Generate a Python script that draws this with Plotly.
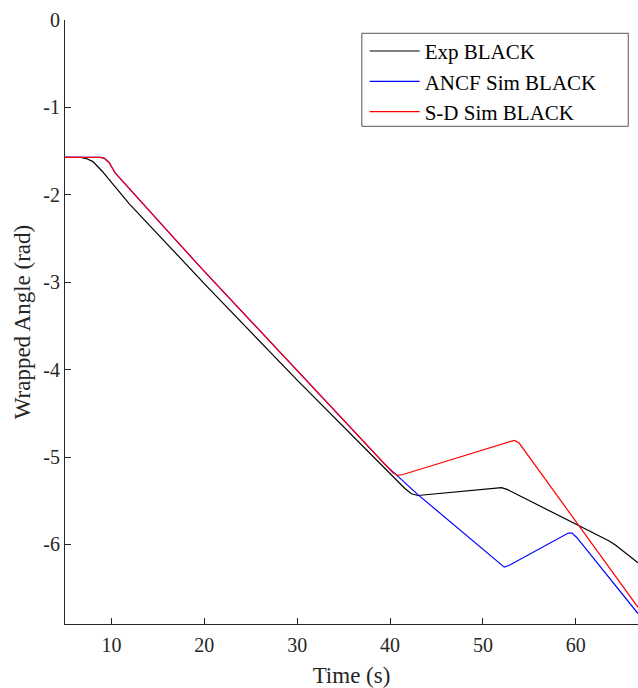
import plotly.graph_objects as go

# Experimental wrapped angle (black)
t_exp = [5.0, 6.7, 7.3, 8.0, 9.0, 10.1, 11.9, 14.2, 20.3, 30.0, 36.8, 41.6, 42.3, 43.0,
         52.0, 52.6, 63.6, 64.3, 66.7]
a_exp = [-1.571, -1.571, -1.585, -1.62, -1.73, -1.87, -2.10, -2.36, -3.05, -4.12, -4.84,
         -5.36, -5.42, -5.44, -5.35, -5.37, -5.96, -6.01, -6.21]

# ANCF simulation (blue)
t_ancf = [5.0, 8.8, 9.2, 9.75, 10.4, 13.0, 15.5, 19.6, 30.0, 36.8, 38.2, 39.5, 43.0,
          51.9, 52.3, 52.8, 59.2, 59.6, 60.1, 66.7]
a_ancf = [-1.571, -1.571, -1.58, -1.63, -1.75, -2.05, -2.35, -2.83, -4.01, -4.79, -4.95,
          -5.09, -5.43, -6.23, -6.26, -6.24, -5.87, -5.87, -5.92, -6.79]

# S-D simulation (red)
t_sd = [5.0, 8.8, 9.2, 9.75, 10.4, 13.0, 15.5, 19.6, 30.0, 36.8, 38.2, 40.3, 40.8, 41.4,
        53.0, 53.4, 53.9, 66.7]
a_sd = [-1.571, -1.571, -1.58, -1.63, -1.75, -2.05, -2.35, -2.83, -4.01, -4.79, -4.95,
        -5.18, -5.21, -5.20, -4.82, -4.81, -4.84, -6.72]

x_ticks = [10, 20, 30, 40, 50, 60]
y_ticks = [-6, -5, -4, -3, -2, -1, 0]
y_ticktext = ["-6", "-5", "-4", "-3", "-2", "-1", "0"]

FONT = "Liberation Serif, Times New Roman, serif"
AXC = "#262626"

fig = go.Figure()
fig.add_trace(go.Scatter(x=t_exp, y=a_exp, mode="lines", name="Exp BLACK",
                         line=dict(color="black", width=1.2), legendrank=1))
fig.add_trace(go.Scatter(x=t_ancf, y=a_ancf, mode="lines", name="ANCF Sim BLACK",
                         line=dict(color="#0000ff", width=1.2), legendrank=2))
fig.add_trace(go.Scatter(x=t_sd, y=a_sd, mode="lines", name="S-D Sim BLACK",
                         line=dict(color="#ff0000", width=1.2), legendrank=3))

# legend frame (white box with thin border) drawn behind the legend entries
fig.add_shape(type="rect", xref="paper", yref="paper",
              x0=0.518, x1=0.983, y0=0.824, y1=0.978,
              line=dict(color="#555555", width=1), fillcolor="white", layer="above")

fig.update_layout(
    width=638, height=688,
    margin=dict(l=65, r=0, t=19.5, b=64),
    paper_bgcolor="white", plot_bgcolor="white",
    font=dict(family=FONT, color=AXC, size=20),
    showlegend=True,
    legend=dict(x=0.523, y=0.982, xanchor="left", yanchor="top",
                bgcolor="rgba(0,0,0,0)", borderwidth=0,
                font=dict(family=FONT, size=21, color="black"),
                itemwidth=50, tracegroupgap=0),
)
fig.update_xaxes(
    range=[5, 66.7], tickvals=x_ticks, ticks="inside", ticklen=6, tickcolor=AXC,
    showline=True, linecolor=AXC, linewidth=1, showgrid=False, zeroline=False,
    mirror=False, tickfont=dict(family=FONT, size=20, color=AXC), ticklabelstandoff=3,
    automargin=False,
    title=dict(text="Time (s)", font=dict(family=FONT, size=23, color=AXC), standoff=14),
)
fig.update_yaxes(
    range=[-6.91, 0], tickvals=y_ticks, ticktext=y_ticktext, ticks="inside", ticklen=6,
    tickcolor=AXC, showline=True, linecolor=AXC, linewidth=1, showgrid=False,
    zeroline=False, mirror=False, tickfont=dict(family=FONT, size=20, color=AXC),
    automargin=False,
    title=dict(text="Wrapped Angle (rad)", font=dict(family=FONT, size=23, color=AXC), standoff=6),
)

fig.write_html("out.html")
